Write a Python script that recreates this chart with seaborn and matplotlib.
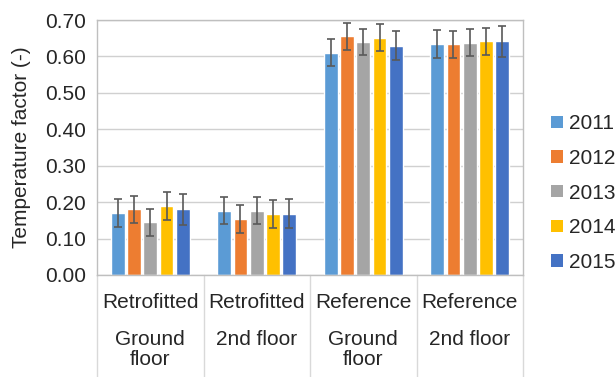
import matplotlib
matplotlib.use("Agg")
import matplotlib.pyplot as plt
import matplotlib.transforms as mtransforms
from matplotlib.patches import Patch
import seaborn as sns
import pandas as pd

# data
groups = ["Retrofitted\nGround floor", "Retrofitted\n2nd floor",
          "Reference\nGround floor", "Reference\n2nd floor"]
top_labels = ["Retrofitted", "Retrofitted", "Reference", "Reference"]
bottom_labels = ["Ground\nfloor", "2nd floor", "Ground\nfloor", "2nd floor"]
years = ["2011", "2012", "2013", "2014", "2015"]

# values per year, one entry per group
y2011 = [0.170, 0.177, 0.610, 0.635]
y2012 = [0.180, 0.153, 0.655, 0.633]
y2013 = [0.145, 0.177, 0.640, 0.638]
y2014 = [0.190, 0.168, 0.651, 0.641]
y2015 = [0.180, 0.168, 0.630, 0.641]

e2011 = [0.038, 0.038, 0.037, 0.038]
e2012 = [0.037, 0.038, 0.037, 0.037]
e2013 = [0.037, 0.037, 0.035, 0.036]
e2014 = [0.038, 0.038, 0.037, 0.038]
e2015 = [0.042, 0.040, 0.040, 0.043]

colors = ["#5B9BD5", "#ED7D31", "#A5A5A5", "#FFC000", "#4472C4"]

values = [y2011, y2012, y2013, y2014, y2015]
errors = [e2011, e2012, e2013, e2014, e2015]

rows = []
for yr, vals in zip(years, values):
    for g, v in zip(groups, vals):
        rows.append({"group": g, "year": yr, "value": v})
df = pd.DataFrame(rows)

sns.set_style("white")
plt.rcParams["font.family"] = ["Liberation Sans", "DejaVu Sans"]

fig = plt.figure(figsize=(6.16, 3.77), dpi=100)
ax = fig.add_axes([97 / 616, 1 - 275 / 377, 426 / 616, 255 / 377])

sns.barplot(data=df, x="group", y="value", hue="year", order=groups,
            hue_order=years, palette=colors, width=0.765, gap=0.15,
            errorbar=None, saturation=1, legend=False, ax=ax)

# error bars on each bar
for cont, errs in zip(ax.containers, errors):
    xs = [b.get_x() + b.get_width() / 2 for b in cont]
    hs = [b.get_height() for b in cont]
    ax.errorbar(xs, hs, yerr=errs, fmt="none", ecolor="#595959",
                elinewidth=1.2, capsize=3.2, capthick=1.2, zorder=5)

ax.set_xlim(-0.5, 3.5)
ax.set_ylim(0, 0.70)
ax.set_yticks([i / 10 for i in range(8)])
ax.yaxis.set_major_formatter(matplotlib.ticker.FormatStrFormatter("%.2f"))
ax.tick_params(axis="y", labelsize=15, length=5, color="#BFBFBF", pad=3)
ax.grid(axis="y", color="#D0D0D0", linewidth=1)
ax.set_axisbelow(True)
for s in ax.spines.values():
    s.set_color("#BFBFBF")
    s.set_linewidth(1)

ax.set_xticks([])
ax.set_xlabel("")
ax.set_ylabel("Temperature factor (-)", fontsize=15, labelpad=10)

# two-level category labels below the axis
trans = mtransforms.blended_transform_factory(ax.transData, ax.transAxes)
for i, (t, b) in enumerate(zip(top_labels, bottom_labels)):
    ax.text(i, -0.106, t, transform=trans, ha="center", va="center", fontsize=15)
    ax.text(i, -0.215, b, transform=trans, ha="center", va="top", fontsize=15,
            linespacing=1.1)
for x in [-0.5, 0.5, 1.5, 2.5, 3.5]:
    ax.plot([x, x], [0, -0.41], transform=trans, color="#D9D9D9",
            linewidth=1, clip_on=False)

handles = [Patch(facecolor=c, edgecolor="none") for c in colors]
fig.legend(handles, years, loc="center left", bbox_to_anchor=(0.895, 0.488),
           frameon=False, fontsize=15, handlelength=0.55, handleheight=0.55,
           handletextpad=0.3, labelspacing=0.75, borderpad=0, borderaxespad=0)

fig.savefig("out.png", dpi=100)
